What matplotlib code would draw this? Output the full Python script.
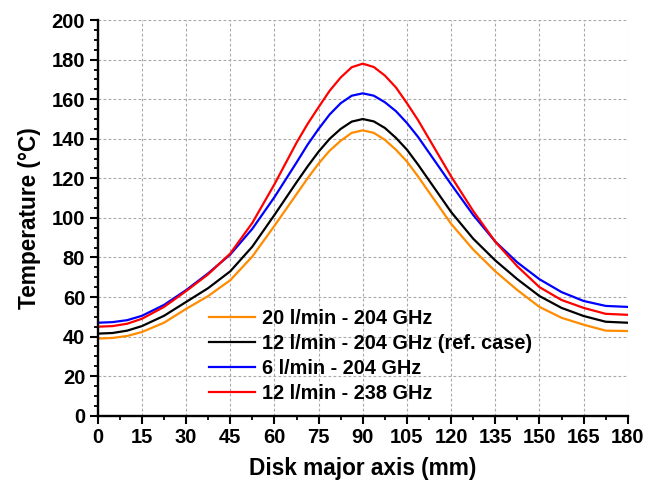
import numpy as np
import matplotlib
matplotlib.use("Agg")
import matplotlib.pyplot as plt
from matplotlib.ticker import MultipleLocator

plt.rcParams['font.family'] = ['Liberation Sans', 'DejaVu Sans']
plt.rcParams['font.weight'] = 'bold'

# disk position (mm)
x = [0, 5, 10, 15, 22.5, 30, 37.5, 45, 52.5, 60, 67.5, 71.25, 75, 78.75, 82.5, 86.25, 90,
     93.75, 97.5, 101.25, 105, 108.75, 112.5, 120, 127.5, 135, 142.5, 150, 157.5, 165, 172.5, 180]

t_20lpm_204 = [39, 39.3, 40.3, 42.3, 47, 54, 60.5, 68.5, 80.5, 96, 112, 120, 127.5, 134, 139, 143, 144.3,
               143, 139.5, 134.5, 128.5, 121, 113, 97, 84, 73, 63.5, 55, 49.5, 46, 43, 42.8]
t_12lpm_204 = [41.5, 41.8, 43, 45.3, 50.5, 57.5, 64.5, 73, 85.5, 101.5, 118, 126, 133.5, 140, 145, 148.7, 150,
               148.8, 145.5, 140.5, 134.5, 127, 119, 103, 89.5, 78.5, 69, 60.5, 54.5, 50.4, 47.5, 47]
t_6lpm_204 = [47, 47.3, 48.3, 50.5, 56, 63.5, 72, 81.5, 94.5, 110.5, 128, 137, 145, 152.3, 158, 161.8, 163,
              161.8, 158.5, 154, 148, 141, 133, 117, 101.5, 88, 77.5, 69, 62.5, 58, 55.5, 55]
t_12lpm_238 = [45, 45.3, 46.5, 49, 55, 63, 71.5, 82, 97.5, 117, 138, 147.5, 156, 164.3, 171, 176.2, 178,
               176.3, 172, 166, 158, 149.5, 140, 121, 103.5, 88, 75.5, 65, 58.5, 54.5, 51.5, 51]

labels = ['20 l/min - 204 GHz', '12 l/min - 204 GHz (ref. case)',
          '6 l/min - 204 GHz', '12 l/min - 238 GHz']
colors = ['#ff8c00', 'black', '#0000ff', '#ff0000']

fig = plt.figure(figsize=(6.56, 4.8), dpi=100)
ax = fig.add_axes([0.149, 0.134, 0.808, 0.824])

for y, lab, c in zip([t_20lpm_204, t_12lpm_204, t_6lpm_204, t_12lpm_238], labels, colors):
    ax.plot(x, y, color=c, lw=1.6, label=lab)

ax.set_xlim(0, 180)
ax.set_ylim(0, 200)
ax.xaxis.set_major_locator(MultipleLocator(15))
ax.xaxis.set_minor_locator(MultipleLocator(7.5))
ax.yaxis.set_major_locator(MultipleLocator(20))
ax.yaxis.set_minor_locator(MultipleLocator(5))

ax.grid(True, which='major', color='#a8a8a8', lw=0.8, linestyle=(0, (2.5, 2)))
ax.set_axisbelow(True)

for s in ['top', 'right']:
    ax.spines[s].set_visible(False)
for s in ['left', 'bottom']:
    ax.spines[s].set_linewidth(1.7)

ax.tick_params(which='major', direction='out', length=6, width=1.5, labelsize=14.5, pad=3)
ax.tick_params(which='minor', direction='out', length=3, width=1.3)

ax.set_xlabel('Disk major axis (mm)', fontsize=16.3, fontweight='bold', labelpad=7)
ax.set_ylabel('Temperature (°C)', fontsize=16.3, fontweight='bold', labelpad=8)

ax.legend(loc='upper left', bbox_to_anchor=(0.21, 0.27), frameon=False,
          fontsize=14.3, handlelength=2.3, handletextpad=0.35, labelspacing=0.3,
          borderpad=0, borderaxespad=0)

fig.savefig('out.png', dpi=100)
